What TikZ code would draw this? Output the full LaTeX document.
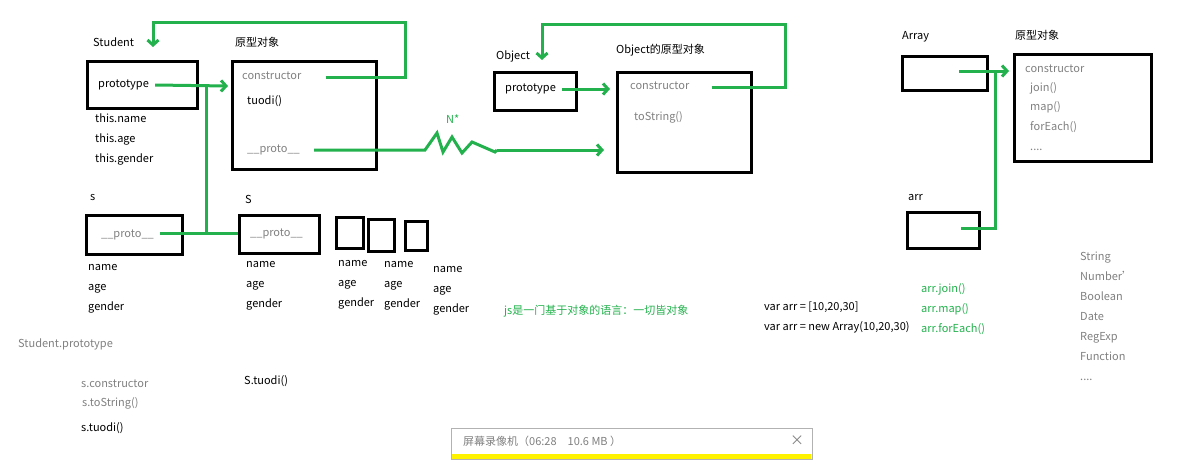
\documentclass[tikz,border=0pt]{standalone}
\usepackage{fontspec}
\setmainfont{Noto Sans CJK SC}
\usetikzlibrary{arrows.meta}

\definecolor{penGreen}{HTML}{22B14C}
\definecolor{noteGray}{HTML}{808080}

\tikzset{
  box/.style={draw, line width=3pt, anchor=north west, inner sep=0pt},
  txt/.style={anchor=west, inner sep=0pt, text height=8pt, text depth=2.5pt,
    font=\fontsize{11}{13}\selectfont},
  gtxt/.style={txt, text=noteGray},
  ctxt/.style={txt, text=penGreen},
  link/.style={draw=penGreen, line width=3pt},
  arrow/.style={link, -{Straight Barb[length=5pt,width=11pt]}},
}

\begin{document}
\begin{tikzpicture}[x=1pt,y=-1pt]

\useasboundingbox (0,0) rectangle (1188,459);

% Student and its prototype object
\node[txt] (stuLbl) at (93,44) {Student};
\node[box, minimum width=110pt, minimum height=47pt] (stuBox) at (86,60) {};
\node[txt] (stuProto) at (98,85) {prototype};
\node[txt] (thisName) at (95,120) {this.name};
\node[txt] (thisAge) at (95,140) {this.age};
\node[txt] (thisGender) at (95,160) {this.gender};

\node[txt] (protoLbl) at (235,44) {原型对象};
\node[box, minimum width=144pt, minimum height=108pt] (protoBox) at (231,60) {};
\node[gtxt] (protoCons) at (242,77) {constructor};
\node[txt] (protoTuodi) at (247,102) {tuodi()};
\node[gtxt] (protoProto) at (247,150) {\_\_proto\_\_};

% instances
\node[txt] (sLbl) at (90,198) {s};
\node[box, minimum width=96pt, minimum height=39pt] (sBox) at (85,214) {};
\node[gtxt] (sProto) at (101,235) {\_\_proto\_\_};
\node[txt] (sName) at (88,268) {name};
\node[txt] (sAge) at (88,288) {age};
\node[txt] (sGender) at (88,308) {gender};

\node[txt] (SLbl) at (245,201) {S};
\node[box, minimum width=80pt, minimum height=38pt] (SBox) at (238,214) {};
\node[gtxt] (SProto) at (250,234) {\_\_proto\_\_};
\node[txt] (SName) at (246,265) {name};
\node[txt] (SAge) at (246,285) {age};
\node[txt] (SGender) at (246,305) {gender};

\node[box, minimum width=27pt, minimum height=31pt] (boxA) at (335,216) {};
\node[box, minimum width=26pt, minimum height=32pt] (boxB) at (367,218) {};
\node[box, minimum width=22pt, minimum height=29pt] (boxC) at (404,220) {};
\node[txt] (aName) at (338,264) {name};
\node[txt] (aAge) at (338,284) {age};
\node[txt] (aGender) at (338,304) {gender};
\node[txt] (bName) at (384,265) {name};
\node[txt] (bAge) at (384,285) {age};
\node[txt] (bGender) at (384,305) {gender};
\node[txt] (cName) at (433,270) {name};
\node[txt] (cAge) at (433,290) {age};
\node[txt] (cGender) at (433,310) {gender};

% notes on the left
\node[gtxt] (noteStu) at (18,345) {Student.prototype};
\node[gtxt] (noteCons) at (81,385) {s.constructor};
\node[gtxt] (noteStr) at (82,404) {s.toString()};
\node[txt] (noteTuodi) at (81,429) {s.tuodi()};
\node[txt] (noteSTuodi) at (244,382) {S.tuodi()};

% Object and its prototype object
\node[txt] (objLbl) at (496,57) {Object};
\node[box, minimum width=82pt, minimum height=38pt] (objBox) at (493,71) {};
\node[txt] (objProto) at (505,89) {prototype};
\node[txt] (objPLbl) at (616,51) {Object的原型对象};
\node[box, minimum width=134pt, minimum height=100pt] (objPBox) at (616,71) {};
\node[gtxt] (objPCons) at (630,87) {constructor};
\node[gtxt] (objPStr) at (634,118) {toString()};
\node[ctxt] (nStar) at (446,121) {N*};

% Array and its prototype object
\node[txt] (arrLbl) at (902,37) {Array};
\node[box, minimum width=85pt, minimum height=34pt] (arrBox) at (901,55) {};
\node[txt] (arrPLbl) at (1015,37) {原型对象};
\node[box, minimum width=137pt, minimum height=107pt] (arrPBox) at (1013,53) {};
\node[gtxt] (arrPCons) at (1025,70) {constructor};
\node[gtxt] (arrPJoin) at (1030,89) {join()};
\node[gtxt] (arrPMap) at (1030,108) {map()};
\node[gtxt] (arrPEach) at (1030,128) {forEach()};
\node[gtxt] (arrPDots) at (1030,148) {....};
\node[txt] (arrInLbl) at (908,198) {arr};
\node[box, minimum width=72pt, minimum height=36pt] (arrInBox) at (906,211) {};

% middle and right notes
\node[ctxt] (jsNote) at (504,312) {js是一门基于对象的语言：一切皆对象};
\node[txt] (varA) at (764,308) {var arr = [10,20,30]};
\node[txt] (varB) at (764,328) {var arr = new Array(10,20,30)};
\node[ctxt] (callJoin) at (921,290) {arr.join()};
\node[ctxt] (callMap) at (921,310) {arr.map()};
\node[ctxt] (callEach) at (921,330) {arr.forEach()};
\node[gtxt] (tString) at (1080,258) {String};
\node[gtxt] (tNumber) at (1080,278) {Number'};
\node[gtxt] (tBool) at (1080,298) {Boolean};
\node[gtxt] (tDate) at (1080,318) {Date};
\node[gtxt] (tReg) at (1080,338) {RegExp};
\node[gtxt] (tFunc) at (1080,358) {Function};
\node[gtxt] (tDots) at (1080,378) {....};

% green connectors
\coordinate (consTop) at (405,22);
\coordinate (stuIn) at (153,47);
\coordinate (objTop) at (785,24);
\coordinate (objIn) at (542,60);
\coordinate (juncTop) at (206,86);
\coordinate (juncBot) at (206,233);
\coordinate (arrJunc) at (995,71);
\coordinate (arrJuncBot) at (995,228);

\draw[arrow] ([xshift=6pt]stuProto.east) -- ([xshift=-3pt]protoBox.west |- juncTop);
\draw[arrow] ([xshift=24pt]protoCons.east) -| (consTop) -| (stuIn);
\draw[link] ([xshift=6pt]sProto.east |- juncBot) -- (SBox.west |- juncBot);
\draw[link] (juncBot) -- (juncTop);

\draw[link] ([xshift=14pt]protoProto.east) -- (425,150)
  -- (437,133) -- (443,152) -- (452,137) -- (462,153) -- (472,142) -- (495,152) -- (497,150);
\draw[arrow] (497,150) -- ([xshift=-12pt]objPBox.west |- 0,150);

\draw[arrow] ([xshift=6pt]objProto.east) -- ([xshift=-6pt]objPBox.west |- objProto.east);
\draw[arrow] ([xshift=22pt]objPCons.east) -| (objTop) -| (objIn);

\draw[arrow] ([xshift=-30pt]arrBox.east |- arrJunc) -- ([xshift=-4pt]arrPBox.west |- arrJunc);
\draw[link] (arrJunc) -- (arrJuncBot) -- ([xshift=-20pt]arrInBox.east |- arrJuncBot);

% screen recorder bar
\draw[draw=black!30, fill=white] (451,428) rectangle (812,459);
\fill[yellow] (452,454) rectangle (811,459);
\node[gtxt] (recText) at (463,443) {屏幕录像机（06:28\quad 10.6 MB ）};
\node[gtxt, font=\fontsize{14}{14}\selectfont] (recClose) at (790,443) {×};

\end{tikzpicture}
\end{document}
